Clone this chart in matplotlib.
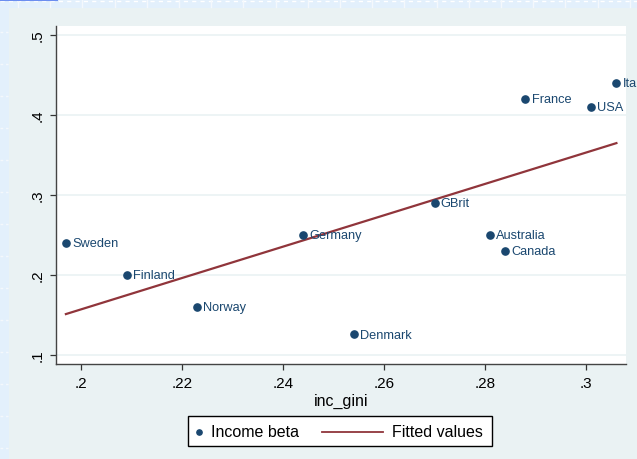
import numpy as np
import matplotlib
matplotlib.use("Agg")
import matplotlib.pyplot as plt
from matplotlib.lines import Line2D
from matplotlib.patches import Rectangle

plt.rcParams['font.family'] = ['Liberation Sans', 'DejaVu Sans']

# income inequality vs. income beta by country
countries = ['Sweden', 'Finland', 'Norway', 'Germany', 'Denmark', 'GBrit',
             'Australia', 'Canada', 'France', 'USA', 'Italy']
inc_gini = [0.197, 0.209, 0.223, 0.244, 0.254, 0.270,
            0.281, 0.284, 0.288, 0.301, 0.306]
income_beta = [0.24, 0.20, 0.16, 0.25, 0.126, 0.29,
               0.25, 0.23, 0.42, 0.41, 0.44]

xticks = [0.20, 0.22, 0.24, 0.26, 0.28, 0.30]
xticklabels = ['.2', '.22', '.24', '.26', '.28', '.3']
yticks = [0.1, 0.2, 0.3, 0.4, 0.5]
yticklabels = ['.1', '.2', '.3', '.4', '.5']

navy = '#1A476F'
maroon = '#90353B'
graph_bg = '#EAF2F3'
outer_bg = '#E3F0FC'

W, H = 637, 460
fig = plt.figure(figsize=(W / 100, H / 100), dpi=100)
fig.patch.set_facecolor(outer_bg)


def fx(px):
    return px / W


def fy(py):
    return 1 - py / H


# faint dashed guides on the outer window
fig.add_artist(Line2D([0, 1], [fy(2), fy(2)], color='white', lw=1, ls=(0, (3, 3))))
for gx in np.arange(18, W, 32.2):
    fig.add_artist(Line2D([fx(gx), fx(gx)], [fy(0), fy(8)], color='#F4F8FC', lw=1))
for gy in np.arange(33, H, 32):
    fig.add_artist(Line2D([fx(0), fx(8)], [fy(gy), fy(gy)], color='#F4F8FC', lw=1, ls=(0, (2, 2))))
fig.add_artist(Line2D([0, fx(57)], [fy(0.5), fy(0.5)], color='#6C8EF0', lw=1.5))

# graph region
fig.add_artist(Rectangle((fx(9), 0), 1 - fx(9), fy(9), transform=fig.transFigure,
                         facecolor=graph_bg, edgecolor='none', zorder=0))

ax = fig.add_axes([fx(56), fy(365), fx(626) - fx(56), fy(27) - fy(365)])
ax.set_facecolor('white')

ax.set_xlim(0.19504, 0.3079)
ax.set_ylim(0.0888, 0.5113)

for t in yticks:
    ax.axhline(t, color=graph_bg, lw=1.2, zorder=1)

# fitted regression line
slope, icpt = np.polyfit(inc_gini, income_beta, 1)
xs = np.array([min(inc_gini), max(inc_gini)])
ax.plot(xs, icpt + slope * xs, color=maroon, lw=1.6, zorder=2)

ax.plot(inc_gini, income_beta, 'o', color=navy, markersize=5.2, zorder=3)
for name, xv, yv in zip(countries, inc_gini, income_beta):
    ax.annotate(name, (xv, yv), xytext=(4.5, -0.3), textcoords='offset points',
                va='center', ha='left', fontsize=9.2, color=navy,
                annotation_clip=False, zorder=4)

ax.set_xticks(xticks)
ax.set_xticklabels(xticklabels, fontsize=11)
ax.set_yticks(yticks)
ax.set_yticklabels(yticklabels, fontsize=11, rotation=90, va='center')
ax.tick_params(axis='both', direction='out', length=4.5, width=0.9, color='#333333')
ax.tick_params(axis='x', pad=4.5)
ax.tick_params(axis='y', pad=4)

for s in ['top', 'right']:
    ax.spines[s].set_visible(False)
for s in ['left', 'bottom']:
    ax.spines[s].set_color('#444444')
    ax.spines[s].set_linewidth(1.0)

ax.set_xlabel('inc_gini', fontsize=11.5, labelpad=2)

# legend box
fig.add_artist(Rectangle((fx(188), fy(447)), fx(492) - fx(188), fy(417) - fy(447),
                         transform=fig.transFigure, facecolor='white',
                         edgecolor='black', lw=1.0, zorder=5))
fig.add_artist(Line2D([fx(199)], [fy(432.5)], marker='o', markersize=3.8,
                      color=navy, lw=0, zorder=6))
fig.text(fx(211), fy(432.5), 'Income beta', fontsize=11.5, va='center', ha='left', zorder=6)
fig.add_artist(Line2D([fx(322), fx(383)], [fy(432.5), fy(432.5)], color=maroon,
                      lw=1.3, zorder=6))
fig.text(fx(392), fy(432.5), 'Fitted values', fontsize=11.5, va='center', ha='left', zorder=6)

fig.savefig('out.png', dpi=100, facecolor=fig.get_facecolor())
